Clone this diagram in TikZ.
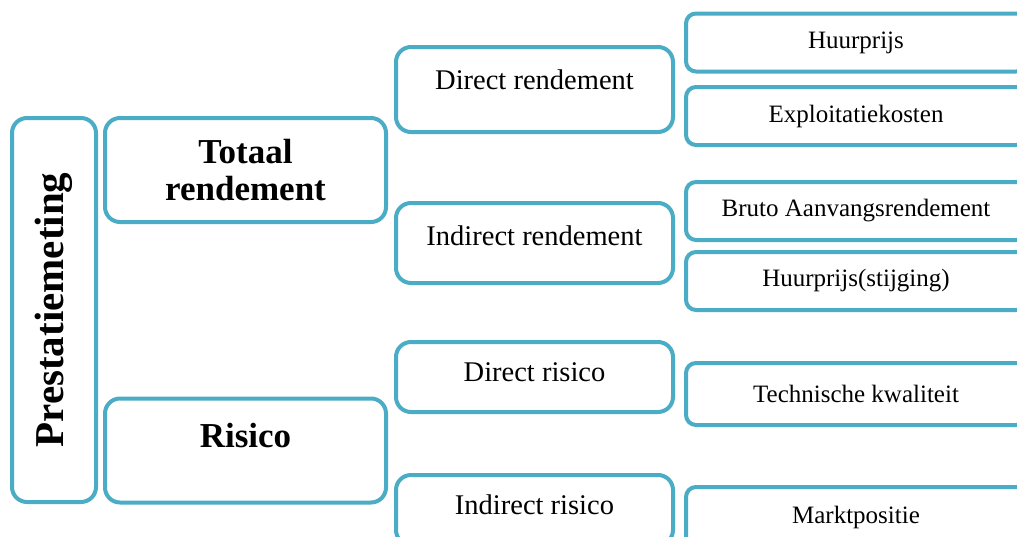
\documentclass[tikz,border=0pt]{standalone}
\usepackage{fontspec}
\setmainfont{Liberation Serif}
\usepackage{tikz}
\usetikzlibrary{positioning}
\definecolor{boxblue}{HTML}{4BACC6}
\tikzstyle{block} = [draw=boxblue, line width=4pt, fill=white, rectangle,
    rounded corners=15pt, inner sep=0pt, outer sep=0pt]
\tikzstyle{main} = [block, minimum width=281pt, minimum height=104pt,
    font=\bfseries\fontsize{35}{37}\selectfont, align=center]
\tikzstyle{mid} = [block, minimum width=277pt]
\tikzstyle{leaf} = [block, rounded corners=10pt, minimum width=340pt,
    minimum height=58pt, font=\fontsize{25}{30}\selectfont]
\tikzstyle{midtext} = [font=\fontsize{28.5}{32}\selectfont]
\tikzstyle{maintext} = [font=\bfseries\fontsize{35}{37}\selectfont]

\begin{document}
\begin{tikzpicture}[x=1pt, y=-1pt]
    \useasboundingbox (0,0) rectangle (1017,536);

    % We start with the outer block
    \node [block, rotate=90, minimum width=384pt, minimum height=84pt,
        font=\bfseries\fontsize{41}{44}\selectfont] (perf) at (54,310) {Prestatiemeting};

    % Second column
    \node [main] (total) at (245.5,170) {Totaal\\rendement};
    \node [main, label={[maintext, yshift=15pt]center:Risico}] (risk) at (245.5,450.5) {};

    % Third column
    \node [mid, minimum height=85pt, label={[midtext, yshift=9.5pt]center:Direct rendement}] (dirret) at (534.5,89.5) {};
    \node [mid, minimum height=80pt, label={[midtext, yshift=7pt]center:Indirect rendement}] (indret) at (534.5,243) {};
    \node [mid, minimum height=70pt, label={[midtext, yshift=5pt]center:Direct risico}] (dirrisk) at (534.5,377) {};
    \node [mid, minimum height=70pt, label={[midtext, yshift=5pt]center:Indirect risico}] (indrisk) at (534.5,510) {};

    % Last column, partly outside the page
    \node [leaf] (rent) at (856,42.5) {Huurprijs};
    \node [leaf] (costs) at (856,116) {Exploitatiekosten};
    \node [leaf] (bar) at (856,211) {Bruto Aanvangsrendement};
    \node [leaf] (rentup) at (856,281) {Huurprijs(stijging)};
    \node [leaf, minimum height=62pt] (quality) at (856,394) {Technische kwaliteit};
    \node [leaf, minimum height=60pt] (market) at (856,517) {Marktpositie};
\end{tikzpicture}
\end{document}
